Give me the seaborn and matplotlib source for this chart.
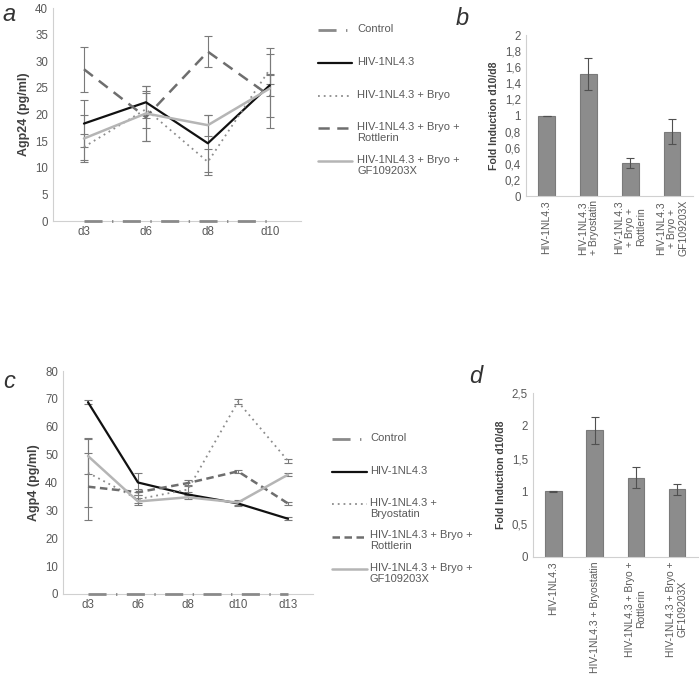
import numpy as np
import pandas as pd
import matplotlib
matplotlib.use('Agg')
import matplotlib.pyplot as plt
import seaborn as sns
from matplotlib.lines import Line2D
from matplotlib.ticker import FuncFormatter, FixedLocator

sns.set_style('white')
plt.rcParams['font.family'] = ['Liberation Sans', 'DejaVu Sans']
plt.rcParams['font.size'] = 8

TXT = '#595959'
SPINE = '#d0d0d0'

# ---- panel a data ----
days_a = ['d3', 'd6', 'd8', 'd10']
ctrl_a = [0, 0, 0, 0]
hiv_a = [18.3, 22.3, 14.6, 25.5]
hiv_a_err = [4.4, 3.0, 5.4, 2.1]
bryo_a = [13.9, 21.0, 11.1, 28.5]
bryo_a_err = [2.5, 3.5, 2.5, 2.8]
rott_a = [28.5, 19.5, 31.8, 23.5]
rott_a_err = [4.2, 4.5, 2.9, 4.0]
gf_a = [15.5, 20.2, 18.0, 24.9]
gf_a_err = [4.5, 5.2, 2.0, 7.5]

# ---- panel b data ----
cats_b = ['HIV-1NL4.3', 'HIV-1NL4.3\n+ Bryostatin', 'HIV-1NL4.3\n+ Bryo +\nRottlerin',
          'HIV-1NL4.3\n+ Bryo +\nGF109203X']
fold_b = [1.0, 1.52, 0.41, 0.80]
fold_b_err = [0.0, 0.20, 0.06, 0.155]

# ---- panel c data ----
days_c = ['d3', 'd6', 'd8', 'd10', 'd13']
ctrl_c = [0, 0, 0, 0, 0]
hiv_c = [68.8, 40.0, 35.7, 32.5, 27.0]
hiv_c_err = [0.7, 3.5, 1.0, 1.0, 0.6]
bryo_c = [43.5, 34.0, 37.5, 69.0, 47.8]
bryo_c_err = [12.2, 1.5, 1.5, 1.0, 0.7]
rott_c = [38.5, 36.5, 39.8, 44.0, 32.5]
rott_c_err = [12.0, 1.0, 1.0, 0.5, 0.5]
gf_c = [49.5, 33.2, 34.7, 32.8, 42.8]
gf_c_err = [6.5, 1.2, 0.8, 1.0, 0.5]

# ---- panel d data ----
cats_d = ['HIV-1NL4.3', 'HIV-1NL4.3 + Bryostatin', 'HIV-1NL4.3 + Bryo +\nRottlerin',
          'HIV-1NL4.3 + Bryo +\nGF109203X']
fold_d = [1.0, 1.93, 1.21, 1.03]
fold_d_err = [0.005, 0.20, 0.16, 0.09]

comma = FuncFormatter(lambda v, p: ('%g' % round(v, 2)).replace('.', ','))


def style_ax(ax):
    sns.despine(ax=ax)
    ax.spines['left'].set_color(SPINE)
    ax.spines['bottom'].set_color(SPINE)
    ax.tick_params(axis='both', length=0, colors=TXT, labelsize=8.3)


def manual_legend(series, x0, x1, xt, y0, step):
    # Excel-like legend: fixed slot per entry, handle level with first text line
    W, H = fig.get_size_inches() * fig.dpi
    for i, (lab, _, _, color, lw, ls) in enumerate(series):
        y = y0 + i * step
        fig.add_artist(Line2D([x0 / W, x1 / W], [1 - y / H, 1 - y / H],
                              transform=fig.transFigure, color=color, lw=lw, linestyle=ls))
        fig.text(xt / W, 1 - (y - 6) / H, lab, fontsize=8, color=TXT,
                 va='top', ha='left', linespacing=1.1)


def line_panel(ax, days, series, ymax, ylabel, leg):
    for name, vals, err, color, lw, ls in series:
        df = pd.DataFrame({'day': days, 'value': vals})
        sns.lineplot(data=df, x='day', y='value', sort=False, ax=ax, color=color,
                     lw=lw, linestyle=ls, errorbar=None, clip_on=False, zorder=3)
        if err is not None:
            ax.errorbar(days, vals, yerr=err, fmt='none', ecolor='#7a7a7a',
                        elinewidth=0.8, capsize=3, capthick=0.8, zorder=2)
    ax.set_xlim(-0.5, len(days) - 0.5)
    ax.set_ylim(0, ymax)
    ax.set_xlabel('')
    ax.set_ylabel(ylabel, fontweight='bold', color='#404040', fontsize=9)
    style_ax(ax)
    manual_legend(series, *leg)


def bar_panel(ax, cats, vals, err, ymax, step, minor):
    sns.barplot(x=cats, y=vals, color='#8c8c8c', width=0.4, edgecolor='#7a7a7a',
                linewidth=0.8, saturation=1, ax=ax)
    ax.errorbar(np.arange(len(vals)), vals, yerr=err, fmt='none', ecolor='#505050',
                elinewidth=0.8, capsize=3, capthick=0.8)
    ax.set_xlim(-0.5, len(vals) - 0.5)
    ax.set_ylim(0, ymax)
    ax.set_yticks(np.arange(0, ymax + step / 2, step))
    ax.yaxis.set_major_formatter(comma)
    ax.set_ylabel('Fold Induction d10/d8', fontweight='bold', color='#404040', fontsize=7.6)
    style_ax(ax)
    ax.tick_params(axis='x', labelrotation=90, labelsize=7.5, pad=3)
    for t in ax.get_xticklabels():
        t.set_multialignment('center')
        t.set_linespacing(1.15)
    if minor:
        ax.xaxis.set_minor_locator(FixedLocator(np.arange(len(vals) + 1) - 0.5))
        ax.tick_params(axis='x', which='minor', length=5, width=0.8, color='#bfbfbf')


fig = plt.figure(figsize=(7, 6.79), dpi=100)
ax_a = fig.add_axes([0.0757, 0.6745, 0.354, 0.3137])
ax_b = fig.add_axes([0.751, 0.7113, 0.239, 0.2371])
ax_c = fig.add_axes([0.09, 0.1252, 0.357, 0.3284])
ax_d = fig.add_axes([0.761, 0.1797, 0.2357, 0.2415])

ctrl_ls = (0, (6.5, 3.4, 0.5, 3.4))
line_panel(ax_a, days_a, [
    ('Control', ctrl_a, None, '#8a8a8a', 2.0, ctrl_ls),
    ('HIV-1NL4.3', hiv_a, hiv_a_err, '#111111', 1.6, '-'),
    ('HIV-1NL4.3 + Bryo', bryo_a, bryo_a_err, '#8c8c8c', 1.3, (0, (1, 2.2))),
    ('HIV-1NL4.3 + Bryo +\nRottlerin', rott_a, rott_a_err, '#6e6e6e', 1.8, (0, (4.5, 3))),
    ('HIV-1NL4.3 + Bryo +\nGF109203X', gf_a, gf_a_err, '#b5b5b5', 1.8, '-'),
], 40, 'Agp24 (pg/ml)', (318, 352, 357, 30, 32.8))
ax_a.set_yticks(np.arange(0, 41, 5))

line_panel(ax_c, days_c, [
    ('Control', ctrl_c, None, '#8a8a8a', 2.0, ctrl_ls),
    ('HIV-1NL4.3', hiv_c, hiv_c_err, '#111111', 1.6, '-'),
    ('HIV-1NL4.3 +\nBryostatin', bryo_c, bryo_c_err, '#8c8c8c', 1.3, (0, (1, 2.2))),
    ('HIV-1NL4.3 + Bryo +\nRottlerin', rott_c, rott_c_err, '#6e6e6e', 1.8, (0, (3, 1.8))),
    ('HIV-1NL4.3 + Bryo +\nGF109203X', gf_c, gf_c_err, '#b5b5b5', 1.8, '-'),
], 80, 'Agp4 (pg/ml)', (332, 367, 370, 439, 32.5))
ax_c.set_yticks(np.arange(0, 81, 10))

bar_panel(ax_b, cats_b, fold_b, fold_b_err, 2, 0.2, True)
bar_panel(ax_d, cats_d, fold_d, fold_d_err, 2.5, 0.5, False)

for lab, x, y in [('a', 0.004, 0.996), ('b', 0.651, 0.99), ('c', 0.004, 0.455), ('d', 0.671, 0.462)]:
    fig.text(x, y, lab, fontsize=17, style='italic', color='#333333', va='top', ha='left')

fig.savefig('out.png', dpi=100)
